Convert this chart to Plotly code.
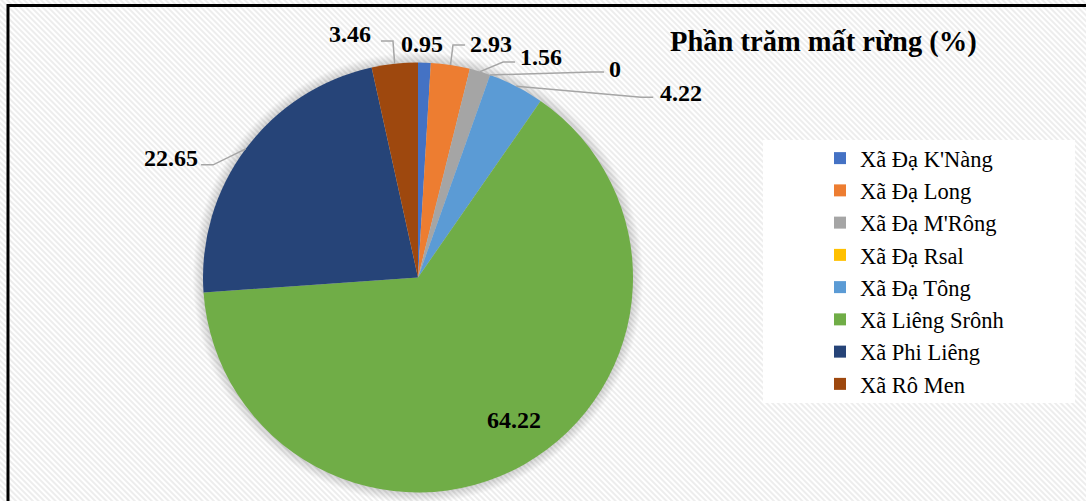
import base64
import math
import plotly.graph_objects as go

# ---- data -------------------------------------------------------------
villages = ["Xã Đạ K'Nàng", "Xã Đạ Long", "Xã Đạ M'Rông", "Xã Đạ Rsal",
            "Xã Đạ Tông", "Xã Liêng Srônh", "Xã Phi Liêng", "Xã Rô Men"]
loss_pct = [0.95, 2.93, 1.56, 0, 4.22, 64.22, 22.65, 3.46]
slice_colors = ["#4472C4", "#ED7D31", "#A5A5A5", "#FFC000",
                "#5B9BD5", "#70AD47", "#264478", "#9E480E"]
chart_title = "Phần trăm mất rừng (%)"

# ---- geometry (pixels) ------------------------------------------------
W, H = 1086, 501
CX, CY, R = 418, 277.5, 215
SERIF = "Liberation Serif, Times New Roman, serif"

# label placement relative to the slice's rim point:
# (text dx, text dy, xanchor, elbow offset or None)
label_place = [
    (-2.4, -18.6, "center", None),
    (17.5, -21.0, "left", (2.5, -20.0)),
    (38.0, -14.7, "left", (23.0, -9.7)),
    (117.0, -6.0, "left", (102.0, -3.0)),
    (142.0, 7.0, "left", (125.0, 11.0)),
    (-10.0, -44.0, "center", None),
    (-45.7, 9.0, "right", (-32.7, 16.0)),
    (-21.7, -29.8, "right", (-1.7, -22.8)),
]


def px(x):
    return x / W


def py(y):
    return 1 - y / H


fig = go.Figure()
fig.add_trace(go.Pie(
    labels=villages, values=loss_pct, sort=False, direction="clockwise",
    rotation=0, textinfo="none", hoverinfo="label+value",
    marker=dict(colors=slice_colors, line=dict(width=0)),
    domain=dict(x=[px(CX - R), px(CX + R)], y=[py(CY + R), py(CY - R)]),
    showlegend=True,
))

shapes = []
annotations = []

# soft glow under the pie
for k in range(1, 11):
    r = R + k
    shapes.append(dict(type="circle", xref="paper", yref="paper",
                       x0=px(CX - r), x1=px(CX + r), y0=py(CY + r), y1=py(CY - r),
                       fillcolor="rgba(0,0,0,0.016)", line=dict(width=0),
                       layer="below"))

# value labels with elbow leader lines
total = sum(loss_pct)
cum = 0.0
for val, (tdx, tdy, anchor, elbow) in zip(loss_pct, label_place):
    mid = (cum + val / 2) / total * 2 * math.pi
    cum += val
    rx = CX + R * math.sin(mid)
    ry = CY - R * math.cos(mid)
    tx, ty = rx + tdx, ry + tdy
    annotations.append(dict(text=f"<b>{val:g}</b>", x=px(tx), y=py(ty),
                            xref="paper", yref="paper", showarrow=False,
                            xanchor=anchor, yanchor="middle",
                            font=dict(family=SERIF, size=24, color="#000000")))
    if elbow is not None:
        ex, ey = rx + elbow[0], ry + elbow[1]
        hx = ex + (12 if anchor == "left" else -12)
        path = (f"M {px(rx)},{py(ry)} L {px(ex)},{py(ey)} L {px(hx)},{py(ey)}")
        shapes.append(dict(type="path", xref="paper", yref="paper", path=path,
                           line=dict(color="#A5A5A5", width=1.5)))

# white panel behind the legend
shapes.append(dict(type="rect", xref="paper", yref="paper",
                   x0=px(763), x1=px(1075), y0=py(403), y1=py(140),
                   fillcolor="#ffffff", line=dict(width=0), layer="below"))

# outer frame (top and left edges)
shapes.append(dict(type="line", xref="paper", yref="paper",
                   x0=px(7), x1=1, y0=py(5.5), y1=py(5.5),
                   line=dict(color="#000000", width=3)))
shapes.append(dict(type="line", xref="paper", yref="paper",
                   x0=px(8), x1=px(8), y0=py(4), y1=0,
                   line=dict(color="#000000", width=3)))

# title
annotations.append(dict(text=f"<b>{chart_title}</b>", x=px(823), y=py(42),
                        xref="paper", yref="paper", showarrow=False,
                        xanchor="center", yanchor="middle",
                        font=dict(family=SERIF, size=28.5, color="#000000")))

# diagonal hatch background
svg = (
    f"<svg xmlns='http://www.w3.org/2000/svg' width='{W}' height='{H}'>"
    "<defs><pattern id='h' width='4' height='4' patternUnits='userSpaceOnUse' "
    "patternTransform='rotate(-45)'>"
    "<rect width='4' height='4' fill='#ffffff'/>"
    "<rect width='2' height='4' fill='#ededed'/></pattern></defs>"
    "<rect width='100%' height='100%' fill='url(#h)'/></svg>"
)
bg_src = "data:image/svg+xml;base64," + base64.b64encode(svg.encode()).decode()

fig.update_layout(
    width=W, height=H,
    margin=dict(l=0, r=0, t=0, b=0),
    paper_bgcolor="#ffffff", plot_bgcolor="#ffffff",
    images=[dict(source=bg_src, xref="paper", yref="paper", x=0, y=1,
                 sizex=1, sizey=1, xanchor="left", yanchor="top",
                 sizing="stretch", layer="below")],
    shapes=shapes,
    annotations=annotations,
    legend=dict(x=px(820), y=py(137), xanchor="left", yanchor="top",
                bgcolor="rgba(0,0,0,0)", borderwidth=0,
                font=dict(family=SERIF, size=22.5, color="#000000"),
                traceorder="normal"),
)

fig.write_html("out.html")
